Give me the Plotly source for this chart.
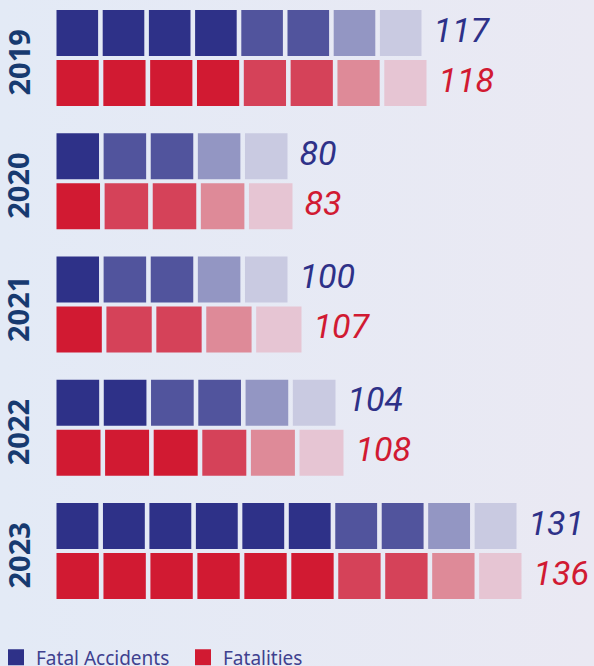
import base64
import plotly.graph_objects as go

# ---------------- data ----------------
years = ["2019", "2020", "2021", "2022", "2023"]
fatal_accidents = [117, 80, 100, 104, 131]
fatalities = [118, 83, 107, 108, 136]
# drawn bar lengths (chart units)
acc_length = [365, 231, 231, 279, 460]
fat_length = [370, 236, 245, 287, 465]
# number of blocks per shade: dark, medium, light, lightest
acc_shades = [[4, 2, 1, 1], [1, 2, 1, 1], [1, 2, 1, 1], [2, 2, 1, 1], [6, 2, 1, 1]]
fat_shades = [[4, 2, 1, 1], [1, 2, 1, 1], [1, 2, 1, 1], [3, 1, 1, 1], [6, 2, 1, 1]]

# ---------------- style ----------------
BLUE_SHADES = ["#2E3188", "#51549D", "#9396C3", "#C9CAE1"]
RED_SHADES = ["#D11A32", "#D54259", "#DE8A98", "#E6C5D3"]
BLUE = BLUE_SHADES[0]
RED = RED_SHADES[0]
YEAR_COLOR = "#173A70"
LEGEND_COLOR = "#3F418F"
GAP = 4.6
ROW_OFFSET = 0.2028
ROW_THICK = 0.373
LABEL_PAD = 12

W, H = 594, 666
MB = 30  # bottom margin holding the legend
PH = H - MB
PITCH = 123.25
Y0 = 58


def blocks(lengths, shades, offset, palette):
    xs, bases, ys, cols = [], [], [], []
    for i, (L, sh) in enumerate(zip(lengths, shades)):
        n = sum(sh)
        w = (L - (n - 1) * GAP) / n
        k = 0
        for level, cnt in enumerate(sh):
            for _ in range(cnt):
                xs.append(w)
                bases.append(k * (w + GAP))
                ys.append(i + offset)
                cols.append(palette[level])
                k += 1
    return xs, bases, ys, cols


fig = go.Figure()

for lengths, shades, off, pal in [
    (acc_length, acc_shades, -ROW_OFFSET, BLUE_SHADES),
    (fat_length, fat_shades, ROW_OFFSET, RED_SHADES),
]:
    xs, bases, ys, cols = blocks(lengths, shades, off, pal)
    fig.add_trace(go.Bar(
        orientation="h", x=xs, base=bases, y=ys, width=ROW_THICK,
        marker=dict(color=cols, line=dict(width=0)),
        showlegend=False, hoverinfo="skip",
    ))

# value labels
for lengths, vals, off, col in [
    (acc_length, fatal_accidents, -ROW_OFFSET, BLUE),
    (fat_length, fatalities, ROW_OFFSET, RED),
]:
    fig.add_trace(go.Scatter(
        x=[L + LABEL_PAD for L in lengths],
        y=[i + off for i in range(len(years))],
        mode="text", text=[str(v) for v in vals],
        textposition="middle right",
        textfont=dict(family="Roboto", size=34, color=col, style="italic"),
        showlegend=False, hoverinfo="skip", cliponaxis=False,
    ))

# legend entries
fig.add_trace(go.Scatter(x=[None], y=[None], mode="markers", name="Fatal Accidents",
                         marker=dict(symbol="square", size=16, color=BLUE)))
fig.add_trace(go.Scatter(x=[None], y=[None], mode="markers", name="Fatalities",
                         marker=dict(symbol="square", size=16, color=RED)))

# year labels
for i, yr in enumerate(years):
    fig.add_annotation(
        x=17.5 / W, xref="paper", y=i, yref="y", yshift=-5,
        text=f"<b>{yr}</b>", textangle=-90, showarrow=False,
        font=dict(family="Noto Sans", size=29, color=YEAR_COLOR),
        xanchor="center", yanchor="middle",
    )

# background gradient
svg = (
    '<svg xmlns="http://www.w3.org/2000/svg" width="594" height="666">'
    '<defs><linearGradient id="g" x1="0" y1="0" x2="1" y2="0">'
    '<stop offset="0" stop-color="#E3EAF6"/><stop offset="1" stop-color="#EAE9F3"/>'
    '</linearGradient></defs><rect width="594" height="666" fill="url(#g)"/></svg>'
)
src = "data:image/svg+xml;base64," + base64.b64encode(svg.encode()).decode()
fig.add_layout_image(dict(source=src, xref="paper", yref="paper", x=0, y=1 + 0.0,
                          sizex=1, sizey=H / PH, sizing="stretch", layer="below"))

x0 = 56.5
fig.update_layout(
    width=W, height=H,
    margin=dict(l=0, r=0, t=0, b=MB, autoexpand=False),
    paper_bgcolor="#E6E9F4",
    plot_bgcolor="rgba(0,0,0,0)",
    barmode="overlay",
    xaxis=dict(range=[-x0, W - x0], visible=False, fixedrange=True),
    yaxis=dict(range=[(PH - Y0) / PITCH, -Y0 / PITCH], visible=False, fixedrange=True),
    legend=dict(orientation="h", x=-4 / W, xanchor="left", y=-(657.5 - PH) / PH, yanchor="middle",
                bgcolor="rgba(0,0,0,0)", entrywidth=142, entrywidthmode="pixels",
                font=dict(family="Noto Sans", size=19, color=LEGEND_COLOR)),
    showlegend=True,
)

fig.write_html(
    "out.html",
    config={"displayModeBar": False},
    post_script="document.body.style.margin='0';document.body.style.overflow='hidden';",
)
